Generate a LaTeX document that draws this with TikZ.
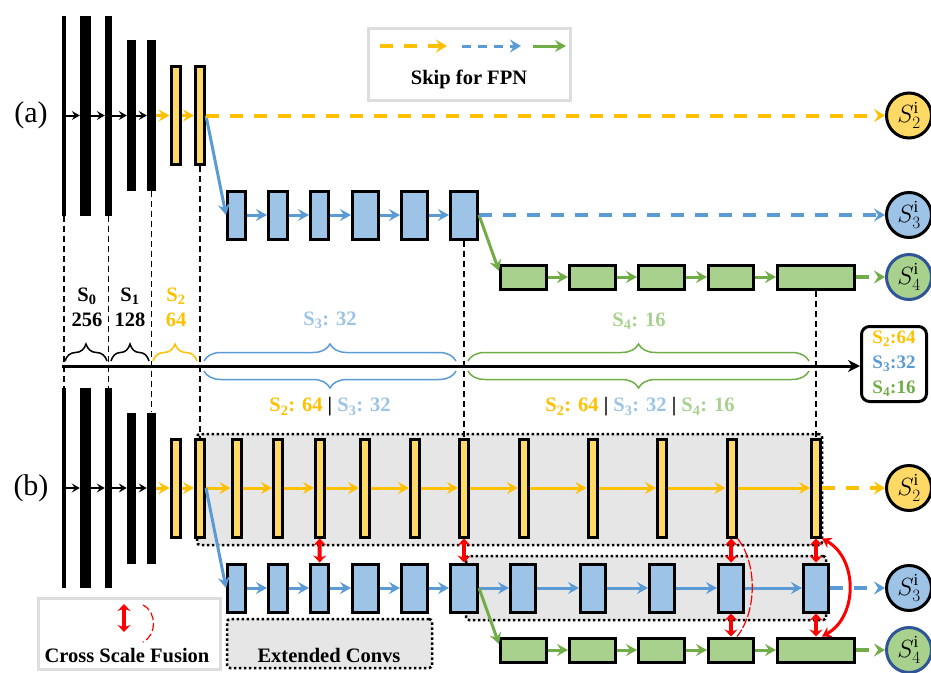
\documentclass[tikz,border=0pt]{standalone}
\usepackage{fontspec}
\setmainfont{Liberation Serif}
\usepackage{xcolor}
\usepackage{tikz}
\usetikzlibrary{arrows.meta, decorations.pathreplacing}
\definecolor{fpn_yellow}{HTML}{FFC000}
\definecolor{fpn_yellow_fill}{HTML}{FFD966}
\definecolor{fpn_blue}{HTML}{5B9BD5}
\definecolor{fpn_blue_fill}{HTML}{9DC3E6}
\definecolor{fpn_green}{HTML}{70AD47}
\definecolor{fpn_green_fill}{HTML}{A9D18E}
\definecolor{fpn_gray}{HTML}{E6E6E6}
\definecolor{fpn_frame}{HTML}{DDDDDD}
\definecolor{fpn_navy}{HTML}{2F5597}

\begin{document}
\begin{tikzpicture}[x=1pt, y=-1pt, font=\bfseries\fontsize{20.5}{25}\selectfont]
            % Styles
            \tikzstyle{backbone} = [rectangle, fill=black, inner sep=0pt, minimum height=200pt]
            \tikzstyle{ylayer} = [rectangle, draw=black, line width=3pt, fill=fpn_yellow_fill, inner sep=0pt, minimum width=9pt, minimum height=98pt]
            \tikzstyle{blayer} = [rectangle, draw=black, line width=3pt, fill=fpn_blue_fill, inner sep=0pt, minimum height=48pt]
            \tikzstyle{glayer} = [rectangle, draw=black, line width=3pt, fill=fpn_green_fill, inner sep=0pt, minimum width=46pt, minimum height=24pt]
            \tikzstyle{outnode} = [circle, draw=black, line width=3pt, inner sep=0pt, minimum size=45pt, font=\fontsize{24}{24}\selectfont]
            \tikzstyle{dotbox} = [rectangle, draw=black, line width=2.5pt, dash pattern=on 2.5pt off 2.5pt, fill=fpn_gray, rounded corners=3pt, inner sep=0pt]
            \tikzstyle{legframe} = [rectangle, draw=fpn_frame, line width=3pt, inner sep=0pt]
            \tikzstyle{fwd} = [line width=2pt, -{Stealth[length=8pt, width=9pt, inset=3pt]}]
            \tikzstyle{flow} = [line width=3pt, -{Stealth[length=11pt, width=12pt, inset=4pt]}]
            \tikzstyle{skip} = [line width=4pt, dash pattern=on 13pt off 11pt, -{Stealth[length=11pt, width=13pt, inset=4pt]}]
            \tikzstyle{fusion} = [red, line width=4pt, {Stealth[length=7pt, width=13pt]}-{Stealth[length=7pt, width=13pt]}]
            \tikzstyle{guide} = [line width=1.5pt, dash pattern=on 6pt off 4pt]
            \tikzstyle{brace_up} = [decorate, decoration={brace, amplitude=17pt}, line width=1.5pt]
            \tikzstyle{brace_dn} = [decorate, decoration={brace, amplitude=17pt, mirror}, line width=1.5pt]

            \useasboundingbox (0,0) rectangle (931,672);

            % Extended regions of (b), behind the layers
            \node[dotbox, minimum width=625pt, minimum height=111pt] (ext2) at (509.5,489.5) {};
            \node[dotbox, minimum width=360pt, minimum height=64pt] (ext3) at (646,588) {};

            % Legends
            \node[legframe, minimum width=202pt, minimum height=72pt] (skipframe) at (469,64) {};
            \node (skiptext) at (469,79) {Skip for FPN};
            \coordinate (skipY0) at (380,46);
            \coordinate (skipY1) at (447,46);
            \coordinate (skipB0) at (462,46);
            \coordinate (skipB1) at (521,46);
            \coordinate (skipG0) at (533,46);
            \coordinate (skipG1) at (566,46);
            \draw[skip, fpn_yellow] (skipY0) -- (skipY1);
            \draw[skip, fpn_blue, line width=3pt, dash pattern=on 9pt off 7pt] (skipB0) -- (skipB1);
            \draw[flow, fpn_green] (skipG0) -- (skipG1);

            \node[legframe, minimum width=182pt, minimum height=71pt] (csfframe) at (129,633.5) {};
            \node (csftext) at (127,656) {Cross Scale Fusion};
            \coordinate (csfA) at (124,604);
            \coordinate (csfB) at (124,632);
            \coordinate (csfC) at (143,605);
            \coordinate (csfD) at (143,642);
            \draw[fusion] (csfA) -- (csfB);
            \draw[red, line width=1.2pt, dash pattern=on 8pt off 3pt] (csfC) .. controls (157,612) and (157,635) .. (csfD);

            \node[dotbox, minimum width=205pt, minimum height=49pt] (extframe) at (329.5,643.5) {};
            \node (exttext) at (329,655) {Extended Convs};

            % Row tags
            \node[font=\fontsize{30}{30}\selectfont] (tag_a) at (31,115.5) {(a)};
            \node[font=\fontsize{30}{30}\selectfont] (tag_b) at (31,488) {(b)};

            % (a) Nodes: backbone
            \node[backbone, minimum width=4pt] (ak1) at (64,115.5) {};
            \node[backbone, minimum width=11pt] (ak2) at (85.5,115.5) {};
            \node[backbone, minimum width=7pt] (ak3) at (108.5,115.5) {};
            \node[backbone, minimum width=9pt, minimum height=151pt] (ak4) at (131.5,115.5) {};
            \node[backbone, minimum width=9pt, minimum height=151pt] (ak5) at (151.5,115.5) {};

            % (a) Nodes: S2, S3, S4 stages
            \node[ylayer] (ay1) at (175.5,115.5) {};
            \node[ylayer] (ay2) at (200,115.5) {};

            \node[blayer, minimum width=18pt] (ab1) at (236.5,215) {};
            \node[blayer, minimum width=19pt] (ab2) at (278,215) {};
            \node[blayer, minimum width=18pt] (ab3) at (319.5,215) {};
            \node[blayer, minimum width=26pt] (ab4) at (365.5,215) {};
            \node[blayer, minimum width=26pt] (ab5) at (414.5,215) {};
            \node[blayer, minimum width=27pt] (ab6) at (464,215) {};

            \node[glayer] (ag1) at (523.5,277) {};
            \node[glayer] (ag2) at (592.5,277) {};
            \node[glayer] (ag3) at (661.5,277) {};
            \node[glayer, minimum width=45pt] (ag4) at (731,277) {};
            \node[glayer, minimum width=77pt] (ag5) at (816,277) {};

            % (a) Nodes: outputs
            \node[outnode, fill=fpn_yellow_fill] (aout2) at (909,115.5) {$S^{\mathrm{i}}_{2}$};
            \node[outnode, fill=fpn_blue_fill] (aout3) at (909,215) {$S^{\mathrm{i}}_{3}$};
            \node[outnode, fill=fpn_green_fill, draw=fpn_navy] (aout4) at (909,277) {$S^{\mathrm{i}}_{4}$};

            % (b) Nodes: backbone
            \node[backbone, minimum width=4pt] (bk1) at (64,488) {};
            \node[backbone, minimum width=11pt] (bk2) at (85.5,488) {};
            \node[backbone, minimum width=7pt] (bk3) at (108.5,488) {};
            \node[backbone, minimum width=9pt, minimum height=151pt] (bk4) at (131.5,488) {};
            \node[backbone, minimum width=9pt, minimum height=151pt] (bk5) at (151.5,488) {};

            % (b) Nodes: S2 stage, extended
            \node[ylayer] (by1) at (175.5,488) {};
            \node[ylayer] (by2) at (200,488) {};
            \node[ylayer] (by3) at (236.5,488) {};
            \node[ylayer] (by4) at (278,488) {};
            \node[ylayer] (by5) at (320,488) {};
            \node[ylayer] (by6) at (365,488) {};
            \node[ylayer] (by7) at (415,488) {};
            \node[ylayer] (by8) at (464,488) {};
            \node[ylayer] (by9) at (524,488) {};
            \node[ylayer] (by10) at (592.5,488) {};
            \node[ylayer] (by11) at (662,488) {};
            \node[ylayer] (by12) at (731.5,488) {};
            \node[ylayer] (by13) at (816,488) {};

            % (b) Nodes: S3 stage, extended
            \node[blayer, minimum width=18pt] (bb1) at (236.5,588) {};
            \node[blayer, minimum width=19pt] (bb2) at (278,588) {};
            \node[blayer, minimum width=18pt] (bb3) at (319.5,588) {};
            \node[blayer, minimum width=26pt] (bb4) at (365.5,588) {};
            \node[blayer, minimum width=26pt] (bb5) at (414.5,588) {};
            \node[blayer, minimum width=27pt] (bb6) at (464,588) {};
            \node[blayer, minimum width=25pt] (bb7) at (523,588) {};
            \node[blayer, minimum width=25pt] (bb8) at (593,588) {};
            \node[blayer, minimum width=25pt] (bb9) at (662,588) {};
            \node[blayer, minimum width=25pt] (bb10) at (731,588) {};
            \node[blayer, minimum width=25pt] (bb11) at (816,588) {};

            % (b) Nodes: S4 stage
            \node[glayer] (bg1) at (523.5,650) {};
            \node[glayer] (bg2) at (592.5,650) {};
            \node[glayer] (bg3) at (661.5,650) {};
            \node[glayer, minimum width=45pt] (bg4) at (731,650) {};
            \node[glayer, minimum width=77pt] (bg5) at (816,650) {};

            % (b) Nodes: outputs
            \node[outnode, fill=fpn_yellow_fill] (bout2) at (909,488) {$S^{\mathrm{i}}_{2}$};
            \node[outnode, fill=fpn_blue_fill] (bout3) at (909,588) {$S^{\mathrm{i}}_{3}$};
            \node[outnode, fill=fpn_green_fill, draw=fpn_navy] (bout4) at (909,650) {$S^{\mathrm{i}}_{4}$};

            % Stride axis
            \node[draw=black, line width=3pt, rounded corners=8pt, minimum width=65pt, minimum height=75pt, inner sep=0pt, align=center, font=\bfseries\fontsize{19}{25}\selectfont] (res) at (894,364)
                {\textcolor{fpn_yellow}{S\textsubscript{2}:64}\\\textcolor{fpn_blue}{S\textsubscript{3}:32}\\\textcolor{fpn_green}{S\textsubscript{4}:16}};
            \coordinate (axstart) at (62,366);
            \draw[line width=3pt, -{Stealth[length=12pt, width=12pt]}] (axstart) -- (axstart -| res.west);

            % Guides down to the axis and into (b)
            \draw[guide] (ak1) -- (bk1);
            \draw[guide] (ak3) -- (bk3);
            \draw[guide] (ak5) -- (bk5);
            \draw[guide] (ay2) -- (by2);
            \draw[guide] (ab6) -- (by8);
            \draw[guide] (ag5) -- (by13);

            % Braces and strides
            \draw[brace_up] (65,361) -- (107,361);
            \draw[brace_up] (111,361) -- (149,361);
            \draw[brace_up, fpn_yellow] (153,361) -- (197,361);
            \draw[brace_up, fpn_blue] (204,361) -- (456,361);
            \draw[brace_up, fpn_green] (468,361) -- (809,361);
            \draw[brace_dn, fpn_blue] (204,371) -- (456,371);
            \draw[brace_dn, fpn_green] (468,371) -- (809,371);

            \node[align=center] (lab0) at (87,307) {S\textsubscript{0}\\256};
            \node[align=center] (lab1) at (130,307) {S\textsubscript{1}\\128};
            \node[align=center, fpn_yellow] (lab2) at (176,307) {S\textsubscript{2}\\64};
            \node[fpn_blue_fill] (lab3) at (330,320) {S\textsubscript{3}: 32};
            \node[fpn_green_fill] (lab4) at (639,321) {S\textsubscript{4}: 16};
            \node (lab23) at (330,407) {\textcolor{fpn_yellow}{S\textsubscript{2}: 64} | \textcolor{fpn_blue_fill}{S\textsubscript{3}: 32}};
            \node (lab234) at (640,407) {\textcolor{fpn_yellow}{S\textsubscript{2}: 64} | \textcolor{fpn_blue_fill}{S\textsubscript{3}: 32} | \textcolor{fpn_green_fill}{S\textsubscript{4}: 16}};

            % (a) Edges
            \foreach \u/\v in {ak1/ak2, ak2/ak3, ak3/ak4, ak4/ak5}
                \draw[fwd] (\u) -- (\v);
            \draw[flow, fpn_yellow] (ak5) -- (ay1);
            \draw[flow, fpn_yellow] (ay1) -- (ay2);
            \draw[flow, fpn_blue] (ay2.east) -- (ab1.west);
            \foreach \u/\v in {ab1/ab2, ab2/ab3, ab3/ab4, ab4/ab5, ab5/ab6}
                \draw[flow, fpn_blue] (\u) -- (\v);
            \draw[flow, fpn_green] (ab6.east) -- ([yshift=6pt]ag1.west);
            \foreach \u/\v in {ag1/ag2, ag2/ag3, ag3/ag4, ag4/ag5}
                \draw[flow, fpn_green] (\u) -- (\v);

            % (a) Skips to the outputs
            \draw[skip, fpn_yellow] (ay2) -- (aout2);
            \draw[skip, fpn_blue] (ab6) -- (aout3);
            \draw[skip, fpn_green] (ag5) -- (aout4);

            % (b) Edges
            \foreach \u/\v in {bk1/bk2, bk2/bk3, bk3/bk4, bk4/bk5}
                \draw[fwd] (\u) -- (\v);
            \draw[flow, fpn_yellow] (bk5) -- (by1);
            \foreach \u/\v in {by1/by2, by2/by3, by3/by4, by4/by5, by5/by6, by6/by7, by7/by8, by8/by9, by9/by10, by10/by11, by11/by12, by12/by13}
                \draw[flow, fpn_yellow] (\u) -- (\v);
            \draw[flow, fpn_blue] (by2.east) -- (bb1.west);
            \foreach \u/\v in {bb1/bb2, bb2/bb3, bb3/bb4, bb4/bb5, bb5/bb6, bb6/bb7, bb7/bb8, bb8/bb9, bb9/bb10, bb10/bb11}
                \draw[flow, fpn_blue] (\u) -- (\v);
            \draw[flow, fpn_green] (bb6.east) -- ([yshift=6pt]bg1.west);
            \foreach \u/\v in {bg1/bg2, bg2/bg3, bg3/bg4, bg4/bg5}
                \draw[flow, fpn_green] (\u) -- (\v);

            % (b) Skips to the outputs
            \draw[skip, fpn_yellow] (by13) -- (bout2);
            \draw[skip, fpn_blue] (bb11) -- (bout3);
            \draw[skip, fpn_green] (bg5) -- (bout4);

            % Cross scale fusion
            \draw[fusion] (by5) -- (bb3);
            \draw[fusion] (by8) -- (bb6);
            \draw[fusion] (by12) -- (bb10);
            \draw[fusion] (by13) -- (bb11);
            \draw[fusion] (bb10) -- (bg4);
            \draw[fusion] (bb11) -- (bg5);
            \draw[red, line width=1.2pt, dash pattern=on 10pt off 2pt] (by12.south east) .. controls +(20,25) and +(20,-25) .. ([xshift=6pt]bg4.north);
            \draw[red, line width=3pt, {Stealth[length=9pt, width=11pt]}-{Stealth[length=9pt, width=11pt]}] (by13.south east) .. controls +(36,20) and +(36,-20) .. ([xshift=6pt]bg5.north);
        \end{tikzpicture}
\end{document}
